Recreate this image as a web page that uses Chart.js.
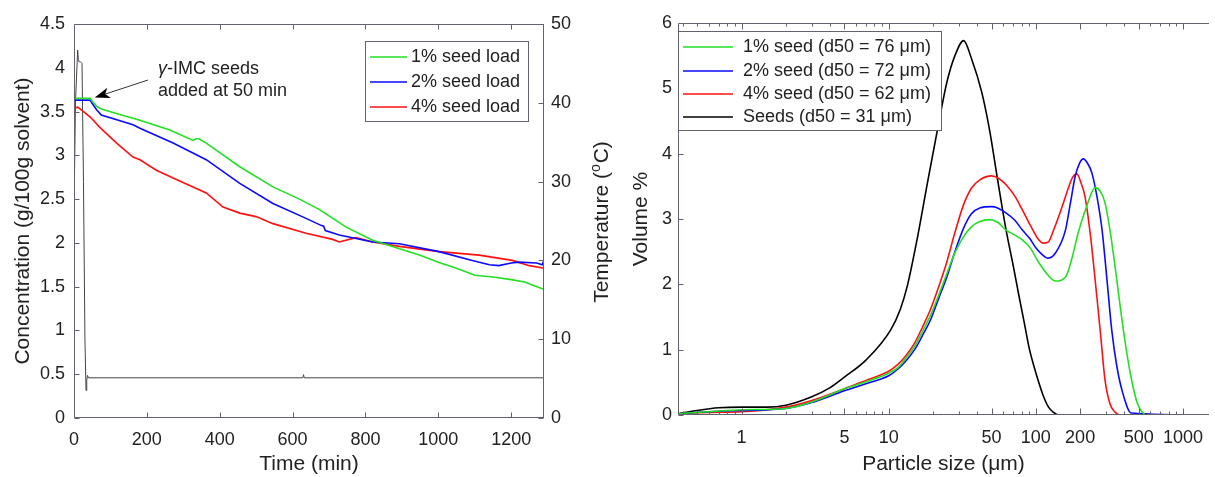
<!DOCTYPE html>
<html>
<head>
<meta charset="utf-8">
<script src="https://cdn.jsdelivr.net/npm/chart.js@4.4.1/dist/chart.umd.min.js"></script>
<style>
  html, body { margin: 0; padding: 0; background: #fff; }
  #wrap { position: relative; width: 1215px; height: 477px; overflow: hidden; }
  #conc-chart { position: absolute; left: 0; top: 0; }
  #psd-chart { position: absolute; left: 607px; top: 0; }
</style>
</head>
<body>
<div id="wrap">
  <canvas id="conc-chart" width="625" height="477"></canvas>
  <canvas id="psd-chart" width="608" height="477"></canvas>
</div>
<script>
// ---- left panel: concentration / temperature vs time ----
const timeTicks = [0, 200, 400, 600, 800, 1000, 1200];
const concTicks = [0, 0.5, 1, 1.5, 2, 2.5, 3, 3.5, 4, 4.5];
const tempTicks = [0, 10, 20, 30, 40, 50];

const time1 = [0, 44, 52, 62, 75, 107, 181, 263, 327, 335, 343, 363, 455, 546, 619, 674, 747, 820, 874, 950, 1000, 1050, 1100, 1150, 1200, 1240, 1250, 1290];
const conc1 = [3.65, 3.65, 3.61, 3.56, 3.53, 3.49, 3.40, 3.29, 3.17, 3.19, 3.19, 3.14, 2.87, 2.64, 2.50, 2.38, 2.18, 2.03, 1.96, 1.86, 1.78, 1.71, 1.63, 1.61, 1.58, 1.55, 1.53, 1.47];

const time2 = [0, 44, 52, 62, 75, 162, 181, 272, 363, 455, 546, 637, 678, 685, 690, 728, 820, 893, 1002, 1093, 1140, 1166, 1200, 1221, 1270, 1285, 1288, 1290];
const conc2 = [3.63, 3.63, 3.58, 3.52, 3.46, 3.35, 3.31, 3.14, 2.95, 2.68, 2.45, 2.28, 2.20, 2.19, 2.14, 2.09, 2.01, 1.99, 1.90, 1.80, 1.75, 1.74, 1.77, 1.78, 1.77, 1.75, 1.78, 1.76];

const time4 = [0, 10, 20, 44, 71, 117, 162, 181, 226, 272, 363, 409, 455, 500, 546, 637, 710, 728, 774, 820, 893, 1002, 1112, 1203, 1250, 1290];
const conc4 = [3.54, 3.55, 3.52, 3.44, 3.32, 3.14, 2.98, 2.95, 2.83, 2.74, 2.57, 2.41, 2.34, 2.30, 2.22, 2.11, 2.04, 2.01, 2.06, 2.01, 1.96, 1.90, 1.86, 1.80, 1.74, 1.71];

const timeTemp = [0, 4, 10, 12, 14, 18, 22, 26, 30, 33, 35, 37, 40, 628, 630, 632, 1290];
const tempC = [26, 40, 46.7, 45.5, 45.2, 45.2, 45, 30, 10, 3.5, 4.8, 5.4, 5.1, 5.1, 5.5, 5.1, 5.1];

// ---- right panel: particle size distributions ----
const sizeTicks = [1, 5, 10, 50, 100, 200, 500, 1000];
const volTicks = [0, 1, 2, 3, 4, 5, 6];

const size1 = [0.37, 0.6, 1, 2, 3, 5, 7, 10, 11.5, 13, 15, 17, 19.2, 22, 24.9, 28, 32.3, 36.5, 41.6, 48.5, 55, 62.8, 71, 81, 92, 105, 120, 136, 159, 176, 194, 222, 253, 275, 295, 318, 343, 370, 400, 440, 490, 573, 1500];
const vol1 = [0.02, 0.05, 0.08, 0.10, 0.20, 0.40, 0.51, 0.64, 0.72, 0.86, 1.05, 1.28, 1.52, 1.85, 2.17, 2.47, 2.73, 2.88, 2.96, 2.99, 2.95, 2.83, 2.76, 2.68, 2.55, 2.33, 2.15, 2.05, 2.11, 2.40, 2.79, 3.20, 3.48, 3.42, 3.25, 2.85, 2.33, 1.75, 1.19, 0.62, 0.18, 0.0, 0.0];

const size2 = [0.37, 0.6, 1, 2, 3, 5, 7, 10, 11.5, 13, 15, 17, 19.2, 22, 24.9, 28, 32.3, 36.5, 41.6, 50, 55, 63, 72, 81, 91, 100, 110, 120, 136, 159, 172, 185, 198, 210, 225, 240, 260, 282, 305, 328, 355, 385, 445, 1500];
const vol2 = [0.02, 0.05, 0.07, 0.10, 0.19, 0.37, 0.48, 0.60, 0.70, 0.82, 1.00, 1.22, 1.45, 1.80, 2.12, 2.48, 2.86, 3.08, 3.17, 3.19, 3.17, 3.09, 2.98, 2.83, 2.70, 2.56, 2.46, 2.40, 2.48, 2.83, 3.25, 3.65, 3.85, 3.92, 3.85, 3.71, 3.35, 2.83, 2.05, 1.30, 0.75, 0.38, 0.03, 0.0];

const size4 = [0.37, 0.6, 1, 2, 3, 5, 7, 10, 11.5, 13, 15, 17, 19.2, 22, 24.9, 28, 32.3, 36.5, 41.6, 50, 56, 63, 72, 81, 92, 105, 113, 122, 130, 140, 151, 165, 177, 190, 203, 216, 235, 253, 275, 295, 318, 343, 385, 1500];
const vol4 = [0.02, 0.04, 0.05, 0.12, 0.22, 0.40, 0.53, 0.67, 0.77, 0.90, 1.10, 1.35, 1.61, 1.98, 2.35, 2.77, 3.22, 3.47, 3.60, 3.66, 3.62, 3.52, 3.35, 3.14, 2.90, 2.68, 2.63, 2.65, 2.79, 2.98, 3.19, 3.45, 3.63, 3.69, 3.55, 3.34, 2.75, 2.07, 1.25, 0.54, 0.18, 0.05, 0.0, 0.0];

const sizeSeed = [0.37, 0.5, 0.7, 1, 1.5, 2, 3, 4, 5, 7, 10.3, 12, 13.4, 15.7, 18.5, 21.3, 24.9, 28.2, 32.3, 36.6, 42.8, 48.5, 55, 62.8, 70, 77, 84, 89.8, 97, 105, 113, 122, 132, 142, 1500];
const volSeed = [0.02, 0.07, 0.11, 0.12, 0.12, 0.15, 0.28, 0.42, 0.58, 0.84, 1.30, 1.62, 1.98, 2.72, 3.60, 4.33, 5.10, 5.50, 5.73, 5.45, 4.95, 4.36, 3.60, 2.83, 2.30, 1.81, 1.38, 1.04, 0.75, 0.49, 0.28, 0.12, 0.04, 0.0, 0.0];

const GREEN = '#22e022', BLUE = '#0a0aff', RED = '#ff1010', BLACK = '#000000';
const AXIS = '#60626c', TEXT = '#222222';
const FONT = '"Liberation Sans", Arial, Helvetica, sans-serif';

Chart.defaults.font.family = FONT;
Chart.defaults.color = TEXT;

const pts = (xs, ys) => xs.map((x, i) => ({x: x, y: ys[i]}));

// matlab-like box with inward tick marks
const frame = {
  id: 'frame',
  afterDatasetsDraw(chart, args, opts) {
    const {ctx, chartArea: a} = chart;
    const L = Math.round(a.left) + 0.5, R = Math.round(a.right) - 0.5;
    const T = Math.round(a.top) + 0.5, B = Math.round(a.bottom) - 0.5;
    ctx.save();
    ctx.strokeStyle = AXIS;
    ctx.lineWidth = 1;
    ctx.beginPath();
    if (opts.edges.includes('left')) { ctx.moveTo(L, T); ctx.lineTo(L, B); }
    if (opts.edges.includes('right')) { ctx.moveTo(R, T); ctx.lineTo(R, B); }
    if (opts.edges.includes('top')) { ctx.moveTo(L, T); ctx.lineTo(R + 0.5, T); }
    if (opts.edges.includes('bottom')) { ctx.moveTo(L, B); ctx.lineTo(R + 0.5, B); }
    opts.ticks.forEach(t => {
      const sc = chart.scales[t.scale];
      t.values.forEach(v => {
        const p = Math.round(sc.getPixelForValue(v)) + 0.5;
        if (p < a.left - 1 || p > a.right + 1 || p < 0) return;
        t.at.forEach(side => {
          if (side === 'bottom') { ctx.moveTo(p, B); ctx.lineTo(p, B - t.len); }
          if (side === 'top') { ctx.moveTo(p, T); ctx.lineTo(p, T + t.len); }
          if (side === 'left') { ctx.moveTo(L, p); ctx.lineTo(L + t.len, p); }
          if (side === 'right') { ctx.moveTo(R, p); ctx.lineTo(R - t.len, p); }
        });
      });
    });
    ctx.stroke();
    ctx.restore();
  }
};

// legend box drawn inside the axes
const boxLegend = {
  id: 'boxLegend',
  afterDraw(chart, args, opts) {
    const {ctx} = chart;
    const [bx, by, bw, bh] = opts.box;
    ctx.save();
    ctx.fillStyle = '#fff';
    ctx.fillRect(bx, by, bw, bh);
    ctx.strokeStyle = AXIS;
    ctx.lineWidth = 1;
    ctx.strokeRect(bx + 0.5, by + 0.5, bw, bh);
    ctx.font = '18px ' + FONT;
    ctx.textBaseline = 'middle';
    ctx.fillStyle = TEXT;
    opts.items.forEach((di, i) => {
      const ds = chart.data.datasets[di];
      const y = opts.rows[i];
      ctx.strokeStyle = ds.borderColor;
      ctx.lineWidth = 1.6;
      ctx.beginPath();
      ctx.moveTo(opts.line[0], y);
      ctx.lineTo(opts.line[1], y);
      ctx.stroke();
      ctx.fillText(ds.label, opts.textX, y);
    });
    ctx.restore();
  }
};

// seed-addition note, arrow, and right-hand temperature label
const concExtras = {
  id: 'concExtras',
  afterDraw(chart) {
    const {ctx, scales: {x, y}} = chart;
    ctx.save();
    ctx.fillStyle = TEXT;
    ctx.textBaseline = 'middle';
    ctx.font = 'italic 18px ' + FONT;
    ctx.fillText('γ', 158, 69);
    const gw = ctx.measureText('γ').width;
    ctx.font = '18px ' + FONT;
    ctx.fillText('-IMC seeds', 158 + gw, 69);
    ctx.fillText('added at 50 min', 158, 91);

    const tx = x.getPixelForValue(57), ty = y.getPixelForValue(3.66);
    const sx = x.getPixelForValue(203), sy = y.getPixelForValue(3.86);
    const ang = Math.atan2(ty - sy, tx - sx);
    ctx.strokeStyle = '#333';
    ctx.lineWidth = 1;
    ctx.beginPath();
    ctx.moveTo(sx, sy);
    ctx.lineTo(tx - 10 * Math.cos(ang), ty - 10 * Math.sin(ang));
    ctx.stroke();
    ctx.fillStyle = '#000';
    ctx.beginPath();
    ctx.moveTo(tx, ty);
    ctx.lineTo(tx - 15 * Math.cos(ang) + 5.5 * Math.sin(ang), ty - 15 * Math.sin(ang) - 5.5 * Math.cos(ang));
    ctx.lineTo(tx - 11 * Math.cos(ang), ty - 11 * Math.sin(ang));
    ctx.lineTo(tx - 15 * Math.cos(ang) - 5.5 * Math.sin(ang), ty - 15 * Math.sin(ang) + 5.5 * Math.cos(ang));
    ctx.closePath();
    ctx.fill();

    // Temperature (oC), reading bottom to top
    ctx.translate(608, 222);
    ctx.rotate(-Math.PI / 2);
    ctx.fillStyle = TEXT;
    ctx.textBaseline = 'alphabetic';
    ctx.font = '21px ' + FONT;
    const w1 = ctx.measureText('Temperature (').width;
    const w3 = ctx.measureText('C)').width;
    ctx.font = '14px ' + FONT;
    const w2 = ctx.measureText('o').width + 1;
    let px = -(w1 + w2 + w3) / 2;
    ctx.font = '21px ' + FONT;
    ctx.fillText('Temperature (', px, 0);
    ctx.font = '14px ' + FONT;
    ctx.fillText('o', px + w1, -8);
    ctx.font = '21px ' + FONT;
    ctx.fillText('C)', px + w1 + w2, 0);
    ctx.restore();
  }
};

const tickFont = {size: 18};
const titleFont = {size: 21};

new Chart(document.getElementById('conc-chart'), {
  type: 'line',
  data: {
    datasets: [
      {label: '1% seed load', data: pts(time1, conc1), borderColor: GREEN, borderWidth: 1.6, yAxisID: 'y'},
      {label: '2% seed load', data: pts(time2, conc2), borderColor: BLUE, borderWidth: 1.6, yAxisID: 'y'},
      {label: '4% seed load', data: pts(time4, conc4), borderColor: RED, borderWidth: 1.6, yAxisID: 'y'},
      {label: 'Temperature', data: pts(timeTemp, tempC), borderColor: '#444', borderWidth: 1, yAxisID: 'y2'}
    ]
  },
  options: {
    responsive: false,
    animation: false,
    devicePixelRatio: 1,
    events: [],
    elements: {point: {radius: 0}, line: {tension: 0, fill: false}},
    layout: {padding: {top: 24, left: 0, right: 0, bottom: 0}},
    scales: {
      x: {
        type: 'linear', min: 0, max: 1290,
        afterBuildTicks: s => { s.ticks = timeTicks.map(v => ({value: v})); },
        afterFit: s => { s.height = 59; },
        grid: {display: false, drawTicks: false},
        border: {display: false},
        ticks: {font: tickFont, color: TEXT, padding: 11, maxRotation: 0, autoSkip: false, callback: v => String(v)},
        title: {display: true, text: 'Time (min)', font: titleFont, color: TEXT, padding: {top: 0, bottom: 0}}
      },
      y: {
        position: 'left', min: 0, max: 4.5,
        afterBuildTicks: s => { s.ticks = concTicks.map(v => ({value: v})); },
        afterFit: s => { s.width = 74; },
        grid: {display: false, drawTicks: false},
        border: {display: false},
        ticks: {font: tickFont, color: TEXT, padding: 9, autoSkip: false, callback: v => String(v)},
        title: {display: true, text: 'Concentration (g/100g solvent)', font: titleFont, color: TEXT, padding: {top: 11, bottom: 0}}
      },
      y2: {
        position: 'right', min: 0, max: 50,
        afterBuildTicks: s => { s.ticks = tempTicks.map(v => ({value: v})); },
        afterFit: s => { s.width = 81; },
        grid: {display: false, drawTicks: false},
        border: {display: false},
        ticks: {font: tickFont, color: TEXT, padding: 7, autoSkip: false, callback: v => String(v)}
      }
    },
    plugins: {
      legend: {display: false},
      tooltip: {enabled: false},
      frame: {
        edges: ['left', 'right', 'top', 'bottom'],
        ticks: [
          {scale: 'x', values: timeTicks, at: ['bottom', 'top'], len: 5},
          {scale: 'y', values: concTicks, at: ['left'], len: 5},
          {scale: 'y2', values: tempTicks, at: ['right'], len: 5}
        ]
      },
      boxLegend: {box: [365, 41, 163, 80], line: [370, 407], textX: 411, rows: [57, 82, 107], items: [0, 1, 2]}
    }
  },
  plugins: [frame, boxLegend, concExtras]
});

// minor tick positions for the log axis
const sizeMinor = [];
[0.1, 1, 10, 100].forEach(dec => { for (let k = 2; k <= 9; k++) sizeMinor.push(dec * k); });

new Chart(document.getElementById('psd-chart'), {
  type: 'line',
  data: {
    datasets: [
      {label: '1% seed (d50 = 76 μm)', data: pts(size1, vol1), borderColor: GREEN, borderWidth: 1.6},
      {label: '2% seed (d50 = 72 μm)', data: pts(size2, vol2), borderColor: BLUE, borderWidth: 1.6},
      {label: '4% seed (d50 = 62 μm)', data: pts(size4, vol4), borderColor: RED, borderWidth: 1.6},
      {label: 'Seeds (d50 = 31 μm)', data: pts(sizeSeed, volSeed), borderColor: BLACK, borderWidth: 1.6}
    ]
  },
  options: {
    responsive: false,
    animation: false,
    devicePixelRatio: 1,
    events: [],
    elements: {point: {radius: 0}, line: {cubicInterpolationMode: 'monotone', fill: false}},
    layout: {padding: {top: 23, left: 0, right: 0, bottom: 0}},
    scales: {
      x: {
        type: 'logarithmic', min: 0.37, max: 1500,
        afterBuildTicks: s => { s.ticks = sizeTicks.map(v => ({value: v})); },
        afterFit: s => { s.height = 62; },
        grid: {display: false, drawTicks: false},
        border: {display: false},
        ticks: {font: tickFont, color: TEXT, padding: 12, maxRotation: 0, autoSkip: false, callback: v => String(v)},
        title: {display: true, text: 'Particle size (μm)', font: titleFont, color: TEXT, padding: {top: 0, bottom: 0}}
      },
      y: {
        min: 0, max: 6,
        afterBuildTicks: s => { s.ticks = volTicks.map(v => ({value: v})); },
        afterFit: s => { s.width = 71; },
        grid: {display: false, drawTicks: false},
        border: {display: false},
        ticks: {font: tickFont, color: TEXT, padding: 6, autoSkip: false, callback: v => String(v)},
        title: {display: true, text: 'Volume %', font: titleFont, color: TEXT, padding: {top: 22, bottom: 0}}
      }
    },
    plugins: {
      legend: {display: false},
      tooltip: {enabled: false},
      frame: {
        edges: ['left', 'top', 'bottom'],
        ticks: [
          {scale: 'x', values: sizeTicks, at: ['bottom', 'top'], len: 6},
          {scale: 'x', values: sizeMinor, at: ['bottom', 'top'], len: 3},
          {scale: 'y', values: volTicks, at: ['left'], len: 5}
        ]
      },
      boxLegend: {box: [71, 31, 263, 99], line: [76, 126], textX: 136, rows: [47, 71, 94, 117], items: [0, 1, 2, 3]}
    }
  },
  plugins: [frame, boxLegend]
});
</script>
</body>
</html>
